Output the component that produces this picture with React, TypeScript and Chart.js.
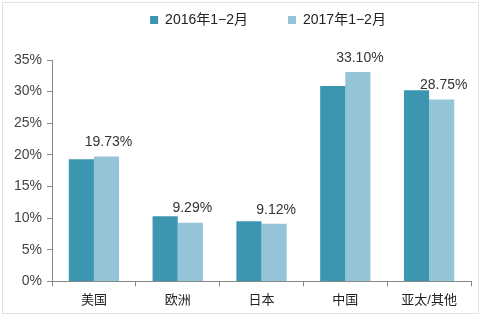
import React, { useEffect, useRef } from "react";
import { Chart, registerables } from "chart.js";

Chart.register(...registerables);

const categories = ["美国", "欧洲", "日本", "中国", "亚太/其他"];
const series2016 = [19.3, 10.3, 9.5, 30.9, 30.2];
const series2017 = [19.73, 9.29, 9.12, 33.1, 28.75];
const labels2017 = ["19.73%", "9.29%", "9.12%", "33.10%", "28.75%"];
const seriesNames = ["2016年1−2月", "2017年1−2月"];

const FONT = '"Liberation Sans", Arial, "Noto Sans CJK SC", sans-serif';

const valueLabels = {
  id: "valueLabels",
  afterDatasetsDraw(chart: any) {
    const ctx = chart.ctx;
    const meta = chart.getDatasetMeta(1);
    ctx.save();
    ctx.font = `14px ${FONT}`;
    ctx.fillStyle = "#333";
    ctx.textAlign = "center";
    ctx.textBaseline = "bottom";
    meta.data.forEach((bar: any, i: number) => {
      ctx.fillText(labels2017[i], bar.x + 2, bar.y - 7);
    });
    ctx.restore();
  },
};

const legendTweak = {
  id: "legendTweak",
  beforeInit(chart: any) {
    const legend = chart.legend;
    if (!legend) return;
    const orig = legend.fit;
    legend.fit = function () {
      orig.call(this);
      this.height += 23;
    };
  },
  afterLayout(chart: any) {
    const legend = chart.legend;
    if (!legend) return;
    legend.left += 28;
    legend.right += 28;
  },
};

export default function App() {
  const ref = useRef<HTMLCanvasElement | null>(null);
  useEffect(() => {
    if (!ref.current) return;
    const chart = new Chart(ref.current, {
      type: "bar",
      data: {
        labels: categories,
        datasets: [
          { label: seriesNames[0], data: series2016, backgroundColor: "#3c96b0" },
          { label: seriesNames[1], data: series2017, backgroundColor: "#93c4d7" },
        ],
      },
      options: {
        animation: false,
        responsive: false,
        datasets: { bar: { categoryPercentage: 0.6, barPercentage: 1.0 } },
        layout: { padding: { top: -27, right: 14, bottom: 6, left: 9 } },
        plugins: {
          legend: {
            position: "top",
            labels: {
              font: { size: 14, family: FONT },
              color: "#222",
              boxWidth: 8,
              boxHeight: 8,
              padding: 40,
            },
          },
          tooltip: { enabled: false },
        },
        scales: {
          x: {
            grid: { drawOnChartArea: false, drawTicks: true, tickLength: 5, color: "#888", offset: true },
            border: { color: "#888" },
            ticks: { font: { size: 13, family: FONT }, color: "#222", padding: 6 },
          },
          y: {
            min: 0,
            max: 35,
            grid: { drawOnChartArea: false, drawTicks: true, tickLength: 5, color: "#888" },
            border: { color: "#888" },
            ticks: {
              stepSize: 5,
              font: { size: 14, family: FONT },
              color: "#444",
              padding: 5,
              callback: (v: any) => v + "%",
            },
          },
        },
      },
      plugins: [valueLabels, legendTweak],
    });
    return () => chart.destroy();
  }, []);
  return (
    <div style={{ position: "fixed", left: 0, top: 0, width: 485, height: 320, background: "#fff" }}>
      <div
        style={{
          position: "absolute",
          left: 2,
          top: 2,
          width: 475,
          height: 310,
          border: "1px solid #e2e2e2",
          pointerEvents: "none",
        }}
      />
      <canvas ref={ref} width={485} height={320} style={{ position: "absolute", left: 0, top: 0 }} />
    </div>
  );
}
